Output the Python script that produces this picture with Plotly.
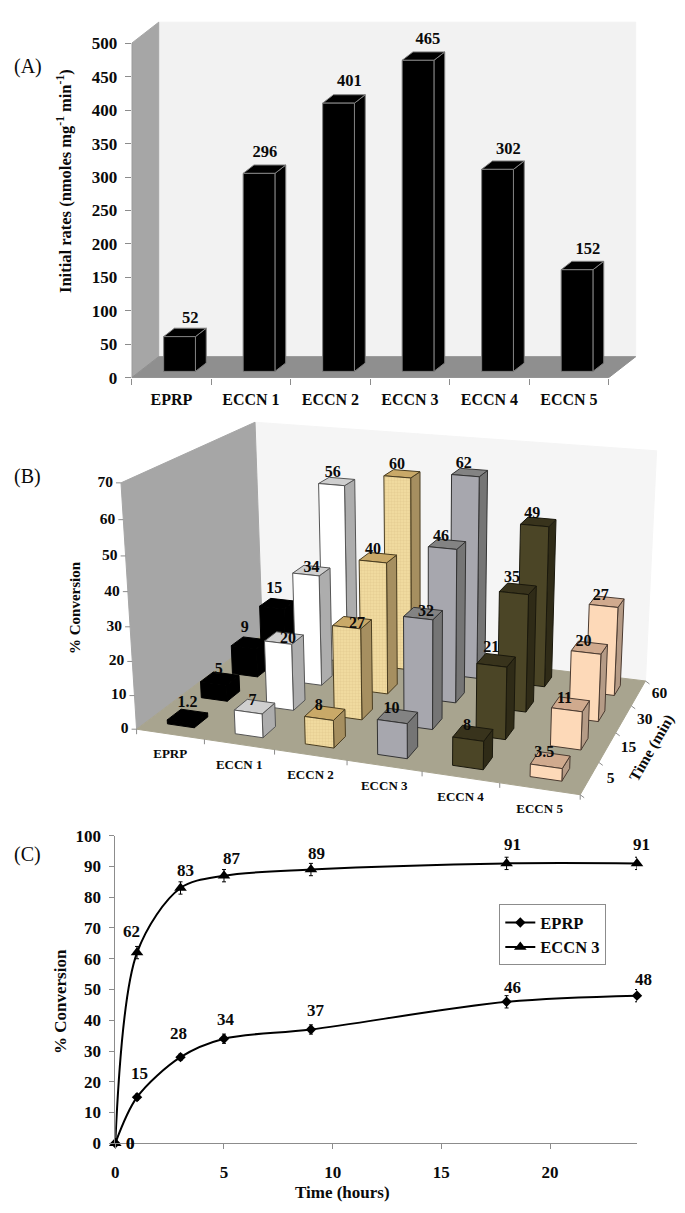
import numpy as np
import plotly.graph_objects as go

# ---------- data ----------
cats_a = ["EPRP", "ECCN 1", "ECCN 2", "ECCN 3", "ECCN 4", "ECCN 5"]
rates_a = [52, 296, 401, 465, 302, 152]
rate_ticks = [0, 50, 100, 150, 200, 250, 300, 350, 400, 450, 500]

cats_b = ["EPRP", "ECCN 1", "ECCN 2", "ECCN 3", "ECCN 4", "ECCN 5"]
times_b = ["5", "15", "30", "60"]
conv_eprp = [1.2, 5, 9, 15]
conv_eccn1 = [7, 20, 34, 56]
conv_eccn2 = [8, 27, 40, 60]
conv_eccn3 = [10, 32, 46, 62]
conv_eccn4 = [8, 21, 35, 49]
conv_eccn5 = [3.5, 11, 20, 27]
conv_ticks = [0, 10, 20, 30, 40, 50, 60, 70]

hours_c = [0, 1, 3, 5, 9, 18, 24]
eprp_c = [0, 15, 28, 34, 37, 46, 48]
eccn3_c = [0, 62, 83, 87, 89, 91, 91]
eprp_err = [0, 1, 1, 1.5, 1.5, 2, 2]
eccn3_err = [0, 2, 2, 2, 2, 2, 2]

# ---------- style ----------
W, H = 685, 1213
SERIF = "Liberation Serif"
TXT = "#0a0a0a"
AX = "#8c8c8c"
def fb(size, bold=True, color=TXT):
    return dict(family=SERIF, size=size, color=color, weight=700 if bold else 400)

fig = go.Figure()

def poly(xs, ys, fill, line, xa, ya, lw=1, pattern=None, name=None):
    kw = {}
    if pattern:
        kw["fillpattern"] = pattern
    fig.add_trace(go.Scatter(x=list(xs) + [xs[0]], y=list(ys) + [ys[0]], mode="lines", fill="toself",
                             fillcolor=fill, line=dict(color=line, width=lw), xaxis=xa, yaxis=ya,
                             hoverinfo="skip", showlegend=False, name=name, **kw))

def seg(xs, ys, xa, ya, color=AX, lw=1):
    fig.add_trace(go.Scatter(x=xs, y=ys, mode="lines", line=dict(color=color, width=lw), xaxis=xa, yaxis=ya,
                             hoverinfo="skip", showlegend=False, cliponaxis=False))

# ---------- panel A: oblique box ----------
A_LEFT, A_RIGHT, A_Y0, A_TOP = 131.7, 640.0, 377.7, 18.0
A_CAT_PX, A_VAL_PX = 79.5, 0.669
DX, DY = 27 / A_CAT_PX, 21 / A_VAL_PX
VMAX_A = rate_ticks[-1]

def pa(c, v, d):
    return c + d * DX, v + d * DY

def pa_poly(pts, fill, line, lw=1):
    q = [pa(*p) for p in pts]
    poly([a[0] for a in q], [a[1] for a in q], fill, line, "x", "y", lw)

n_a = len(cats_a)
pa_poly([(0, 0, 1), (n_a, 0, 1), (n_a, VMAX_A, 1), (0, VMAX_A, 1)], "#f2f2f2", "#f2f2f2")
pa_poly([(0, 0, 0), (0, 0, 1), (0, VMAX_A, 1), (0, VMAX_A, 0)], "#a6a6a6", "#a6a6a6")
pa_poly([(0, 0, 0), (n_a, 0, 0), (n_a, 0, 1), (0, 0, 1)], "#8f8f8f", "#8f8f8f")
seg([0, 0], [0, VMAX_A], "x", "y")
seg([0, n_a], [0, 0], "x", "y")
for i, v in enumerate(rates_a):
    a, b, d0, d1 = i + 0.3, i + 0.7, 0.3, 0.7
    e = "#808080"
    pa_poly([(b, 0, d0), (b, 0, d1), (b, v, d1), (b, v, d0)], "#000000", e)
    pa_poly([(a, v, d0), (b, v, d0), (b, v, d1), (a, v, d1)], "#000000", e)
    pa_poly([(a, 0, d0), (b, 0, d0), (b, v, d0), (a, v, d0)], "#000000", e)
nudge_a = [(0, 1), (-5, 4), (0, 5), (-1, 4), (0, 3), (0, 3)]
lab = [pa(i + 0.5, v, 0.7) for i, v in enumerate(rates_a)]
fig.add_trace(go.Scatter(x=[p[0] + n[0] / A_CAT_PX for p, n in zip(lab, nudge_a)],
                         y=[p[1] + n[1] / A_VAL_PX for p, n in zip(lab, nudge_a)],
                         text=[str(v) for v in rates_a],
                         mode="text", textposition="top center", textfont=fb(16.5), xaxis="x", yaxis="y",
                         hoverinfo="skip", showlegend=False, cliponaxis=False))

# ---------- panel B: perspective box, camera fitted to the box corners ----------
calib = [
    ((0, 0, 0), (137.3, 728.7)), ((6, 0, 0), (578.3, 796)), ((6, 4, 0), (644, 680.7)), ((0, 4, 0), (262, 635)),
    ((0, 0, 70), (121, 482.7)), ((0, 4, 70), (255, 421.7)), ((6, 4, 70), (656.7, 451.7)),
    ((1, 0, 0), (205, 739.3)), ((2, 0, 0), (275, 750.7)), ((3, 0, 0), (346, 760.7)), ((4, 0, 0), (421.7, 771.7)),
    ((5, 0, 0), (498.3, 784)), ((6, 1, 0), (600.7, 758.3)), ((6, 2, 0), (618.3, 732.3)), ((6, 3, 0), (631.7, 706.7)),
    ((0, 0, 30), (130, 626.3)),
]
M, R = [], []
for (u, v, h), (px, py) in calib:
    M.append([u, v, h, 1, 0, 0, 0, 0, -px * u, -px * v, -px * h]); R.append(px)
    M.append([0, 0, 0, 0, u, v, h, 1, -py * u, -py * v, -py * h]); R.append(py)
P = np.linalg.lstsq(np.array(M, float), np.array(R, float), rcond=None)[0]
P = np.append(P, 1.0).reshape(3, 4)

def pb(u, v, h):
    q = P @ np.array([u, v, h, 1.0])
    return q[0] / q[2], q[1] / q[2]

def pb_poly(pts, fill, line, lw=1, pattern=None):
    q = [pb(*p) for p in pts]
    poly([a[0] for a in q], [a[1] for a in q], fill, line, "x2", "y2", lw, pattern)

pb_poly([(0, 4, 0), (6, 4, 0), (6, 4, 70), (0, 4, 70)], "#f5f5f5", "#f5f5f5")
pb_poly([(0, 0, 0), (0, 4, 0), (0, 4, 70), (0, 0, 70)], "#a6a6a6", "#a6a6a6")
pb_poly([(0, 0, 0), (6, 0, 0), (6, 4, 0), (0, 4, 0)], "#a8a48f", "#a8a48f")

for t in conv_ticks:
    x, y = pb(0, 0, t)
    seg([x - 5, x], [y, y], "x2", "y2")
for i in range(7):
    x, y = pb(i, 0, 0)
    seg([x, x], [y, y + 5], "x2", "y2")
for j in range(5):
    x, y = pb(6, j, 0)
    seg([x, x + 4], [y, y + 3], "x2", "y2")

tex = dict(shape="+", fgcolor="#e0c78c", bgcolor="#f0da9f", size=3, solidity=0.2)
series_b = [conv_eprp, conv_eccn1, conv_eccn2, conv_eccn3, conv_eccn4, conv_eccn5]
faces_b = [
    ("#000000", "#000000", "#000000", "#000000", None),
    ("#ffffff", "#cfcfcf", "#adadad", "#555555", None),
    ("#f0da9f", "#c9a968", "#a68f60", "#4a3d20", tex),
    ("#a7a7ae", "#838383", "#757575", "#333333", None),
    ("#4b4526", "#38331c", "#2f2b17", "#1a180c", None),
    ("#fdd9b8", "#d0aa8e", "#b59b86", "#4a3a30", None),
]
for j in range(3, -1, -1):
    for i in range(6):
        h = series_b[i][j]
        a, b, c, d = i + 0.3, i + 0.7, j + 0.3, j + 0.7
        f, top, side, edge, pat = faces_b[i]
        pb_poly([(b, c, 0), (b, d, 0), (b, d, h), (b, c, h)], side, edge)
        pb_poly([(a, c, h), (b, c, h), (b, d, h), (a, d, h)], top, edge)
        pb_poly([(a, c, 0), (b, c, 0), (b, c, h), (a, c, h)], f, edge, pattern=pat)

# pixel nudges of the value labels in panel B (series by series, row by row)
nudge_b = [
    [(3, -3), (2, 1), (-2, -5), (0, -5)],
    [(1, 4), (7, 11), (3, 7), (-1, 2)],
    [(-3, 3), (8, 11), (-2, 2), (-2, 1)],
    [(-3, 3), (6, 8), (-3, 3), (-3, 2)],
    [(-3, 3), (-2, -2), (-3, -1), (-3, 2)],
    [(-3, 3), (-3, 5), (-3, 4), (-3, 4)],
]
lx, ly, lt = [], [], []
for i in range(6):
    for j in range(4):
        x, y = pb(i + 0.5, j + 0.5, series_b[i][j])
        lx.append(x - 3 + nudge_b[i][j][0]); ly.append(y - 10 + nudge_b[i][j][1]); lt.append(str(series_b[i][j]))
fig.add_trace(go.Scatter(x=lx, y=ly, text=lt, mode="text", textposition="middle center", textfont=fb(16),
                         xaxis="x2", yaxis="y2", hoverinfo="skip", showlegend=False, cliponaxis=False))

pts = [pb(0, 0, t) for t in conv_ticks]
fig.add_trace(go.Scatter(x=[p[0] - 8 for p in pts], y=[p[1] for p in pts], text=[str(t) for t in conv_ticks],
                         mode="text", textposition="middle left", textfont=fb(15.5), xaxis="x2", yaxis="y2",
                         hoverinfo="skip", showlegend=False, cliponaxis=False))
pts = [pb(i + 0.5, 0, 0) for i in range(6)]
fig.add_trace(go.Scatter(x=[p[0] for p in pts], y=[p[1] + 21 for p in pts], text=cats_b, mode="text",
                         textposition="middle center", textfont=fb(13), xaxis="x2", yaxis="y2",
                         hoverinfo="skip", showlegend=False, cliponaxis=False))
pts = [pb(6, j + 0.5, 0) for j in range(4)]
fig.add_trace(go.Scatter(x=[p[0] + 21 for p in pts], y=[p[1] + 1 for p in pts], text=times_b, mode="text",
                         textposition="middle center", textfont=fb(15.5), xaxis="x2", yaxis="y2",
                         hoverinfo="skip", showlegend=False, cliponaxis=False))

# ---------- panel C ----------
def line_trace(name, ys, errs, symbol, size):
    fig.add_trace(go.Scatter(
        x=hours_c, y=ys, name=name, mode="lines+markers", xaxis="x3", yaxis="y3", cliponaxis=False,
        line=dict(color="#000000", width=2, shape="spline", smoothing=0.9),
        marker=dict(symbol=symbol, size=size, color="#000000"),
        error_y=dict(type="data", array=errs, color="#000000", thickness=1, width=2),
        showlegend=True))
line_trace("EPRP", eprp_c, eprp_err, "diamond", 8)
line_trace("ECCN 3", eccn3_c, eccn3_err, "triangle-up", 11)

ann = []
def note(text, x, y, size=16, xref="paper", yref="paper", angle=0, bold=True, **kw):
    ann.append(dict(text=text, x=x, y=y, xref=xref, yref=yref, showarrow=False, textangle=angle,
                    font=fb(size, bold), xanchor="center", yanchor="middle", **kw))
def page(x, y):
    return x / W, 1 - y / H

shift_eprp = [(15, 0), (2, 24), (-2, 24), (2, 19), (5, 19), (6, 14), (6, 16)]
shift_eccn3 = [(15, 0), (-6, 21), (5, 17), (8, 17), (6, 16), (6, 19), (4, 19)]
for ys, sh in ((eprp_c, shift_eprp), (eccn3_c, shift_eccn3)):
    for xv, yv, (dx, dy) in zip(hours_c, ys, sh):
        note(str(yv), xv, yv, 17, "x3", "y3", xshift=dx, yshift=dy)

note("(A)", *page(27.5, 66), 20, bold=False)
note("(B)", *page(27.5, 476), 20, bold=False)
note("(C)", *page(27.5, 854), 20, bold=False)
note("Initial rates (nmoles mg<sup>-1</sup> min<sup>-1</sup>)", *page(65, 181), 16.5, angle=-90)
note("% Conversion", *page(75, 608), 15, angle=-90)
note("Time (min)", *page(651.7, 748.3), 15.5, angle=-60)
note("% Conversion", *page(60, 1002), 17, angle=-90)
note("Time (hours)", *page(342.5, 1192), 17)

def dom_x(a, b):
    return [a / W, b / W]
def dom_y(top, bottom):
    return [1 - bottom / H, 1 - top / H]

fig.update_layout(
    template="none",
    width=W, height=H, autosize=False, margin=dict(l=0, r=0, t=0, b=0),
    paper_bgcolor="#ffffff", plot_bgcolor="rgba(0,0,0,0)", annotations=ann,
    font=dict(family=SERIF, color=TXT),
    legend=dict(x=499.3 / W, y=1 - 904.3 / H, xanchor="left", yanchor="top", bgcolor="#ffffff",
                bordercolor="#8c8c8c", borderwidth=1, font=fb(16.5), itemwidth=30, tracegroupgap=0,
                entrywidth=80, entrywidthmode="pixels"),
    xaxis=dict(domain=dom_x(A_LEFT, A_RIGHT), range=[0, (A_RIGHT - A_LEFT) / A_CAT_PX], anchor="y", automargin=False,
               tickmode="array", tickvals=[i + 0.5 for i in range(n_a)], ticktext=cats_a, ticks="",
               showgrid=False, zeroline=False, showline=False, tickfont=fb(16), ticklabelstandoff=10,
               minor=dict(tickmode="array", tickvals=list(range(n_a + 1)), ticks="outside", ticklen=6,
                          tickcolor=AX, tickwidth=1, showgrid=False)),
    yaxis=dict(domain=dom_y(A_TOP, A_Y0), range=[0, (A_Y0 - A_TOP) / A_VAL_PX], anchor="x", automargin=False,
               tickmode="array", tickvals=rate_ticks, ticks="outside", ticklen=6, tickcolor=AX, tickwidth=1,
               showgrid=False, zeroline=False, showline=False, tickfont=fb(17), ticklabelstandoff=4),
    xaxis2=dict(domain=[0, 1], range=[0, W], anchor="y2", visible=False, automargin=False),
    yaxis2=dict(domain=dom_y(410, 830), range=[830, 410], anchor="x2", visible=False, automargin=False),
    xaxis3=dict(domain=dom_x(115.3, 637), range=[0, 24], anchor="y3", tickmode="array", tickvals=[0, 5, 10, 15, 20],
                ticks="outside", ticklen=5, tickcolor=AX, showline=True, linecolor=AX, linewidth=1, showgrid=False,
                zeroline=False, tickfont=fb(17), ticklabelstandoff=8, automargin=False),
    yaxis3=dict(domain=dom_y(835.7, 1143.3), range=[0, 100], anchor="x3", tickmode="array", automargin=False,
                tickvals=list(range(0, 101, 10)), ticks="outside", ticklen=5, tickcolor=AX, showline=True,
                linecolor=AX, linewidth=1, showgrid=False, zeroline=False, tickfont=fb(17), ticklabelstandoff=5),
)

fig.write_html("out.html", config=dict(displayModeBar=False),
               post_script="document.body.style.margin='0';document.body.style.overflow='hidden';")
